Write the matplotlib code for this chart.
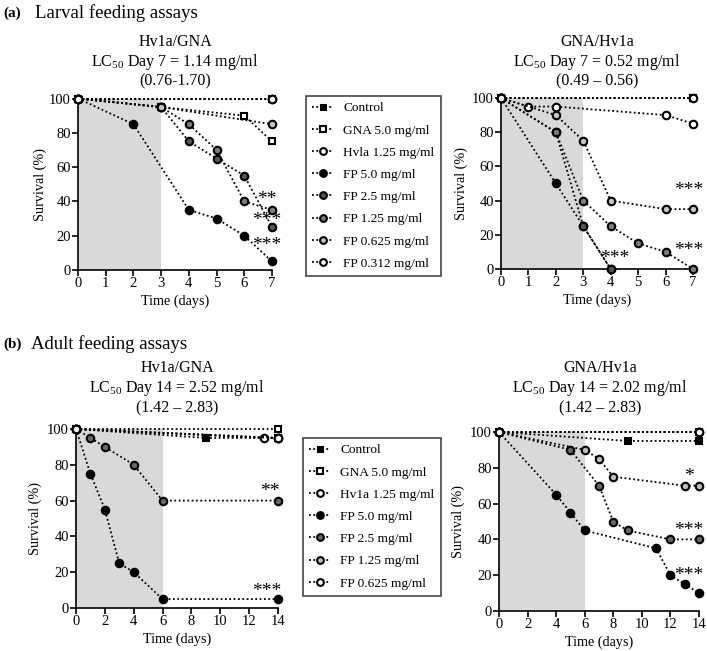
import matplotlib
matplotlib.use("Agg")
import matplotlib.pyplot as plt
from matplotlib.lines import Line2D

plt.rcParams['font.family'] = ['Liberation Serif', 'DejaVu Serif']
plt.rcParams['mathtext.fontset'] = 'custom'
plt.rcParams['mathtext.rm'] = 'Liberation Serif'
plt.rcParams['mathtext.bf'] = 'Liberation Serif:bold'

# ---------------- legend labels ----------------
labels_top = ["Control", "GNA 5.0 mg/ml", "Hvla 1.25 mg/ml", "FP 5.0 mg/ml",
              "FP 2.5 mg/ml", "FP 1.25 mg/ml", "FP 0.625 mg/ml", "FP 0.312 mg/ml"]
labels_bottom = ["Control", "GNA 5.0 mg/ml", "Hv1a 1.25 mg/ml", "FP 5.0 mg/ml",
                 "FP 2.5 mg/ml", "FP 1.25 mg/ml", "FP 0.625 mg/ml"]

# ---------------- (a) larval, Hv1a/GNA ----------------
aL_control_x = [0, 7];               aL_control_y = [100, 100]
aL_gna_x = [0, 3, 6, 7];             aL_gna_y = [100, 95, 90, 75]
aL_hv1a_x = [0, 7];                  aL_hv1a_y = [100, 100]
aL_fp50_x = [0, 2, 4, 5, 6, 7];      aL_fp50_y = [100, 85, 35, 30, 20, 5]
aL_fp25_x = [0, 3, 4, 5, 6, 7];      aL_fp25_y = [100, 95, 75, 65, 55, 25]
aL_fp125_x = [0, 3, 4, 5, 6, 7];     aL_fp125_y = [100, 95, 85, 70, 40, 35]
aL_fp0625_x = [0, 3, 7];             aL_fp0625_y = [100, 95, 85]
aL_fp0312_x = [0, 7];                aL_fp0312_y = [100, 100]
aL_stars = ["**", "***", "***"]
aL_stars_x = [6.8, 6.8, 6.8]
aL_stars_y = [41, 29, 14]

# ---------------- (a) larval, GNA/Hv1a ----------------
aR_control_x = [0, 7];               aR_control_y = [100, 100]
aR_gna_x = [0, 7];                   aR_gna_y = [100, 100]
aR_hv1a_x = [0, 1, 2, 6, 7];         aR_hv1a_y = [100, 95, 95, 90, 85]
aR_fp50_x = [0, 2, 3, 4];            aR_fp50_y = [100, 50, 25, 0]
aR_fp25_x = [0, 2, 3, 4];            aR_fp25_y = [100, 80, 25, 0]
aR_fp125_x = [0, 2, 3, 4, 5, 6, 7];  aR_fp125_y = [100, 80, 40, 25, 15, 10, 0]
aR_fp0625_x = [0, 2, 3, 4, 6, 7];    aR_fp0625_y = [100, 90, 75, 40, 35, 35]
aR_fp0312_x = [0, 7];                aR_fp0312_y = [100, 100]
aR_stars = ["***", "***", "***"]
aR_stars_x = [4.15, 6.85, 6.85]
aR_stars_y = [6, 46, 11]

# ---------------- (b) adult, Hv1a/GNA ----------------
bL_control_x = [0, 9, 14];                bL_control_y = [100, 95, 95]
bL_gna_x = [0, 14];                       bL_gna_y = [100, 100]
bL_hv1a_x = [0, 13, 14];                  bL_hv1a_y = [100, 95, 95]
bL_fp50_x = [0, 1, 2, 3, 4, 6, 14];       bL_fp50_y = [100, 75, 55, 25, 20, 5, 5]
bL_fp25_x = [0, 1, 2, 4, 6, 14];          bL_fp25_y = [100, 95, 90, 80, 60, 60]
bL_fp125_x = [0, 14];                     bL_fp125_y = [100, 95]
bL_fp0625_x = [0, 14];                    bL_fp0625_y = [100, 95]
bL_stars = ["**", "***"]
bL_stars_x = [13.4, 13.2]
bL_stars_y = [65, 9]

# ---------------- (b) adult, GNA/Hv1a ----------------
bR_control_x = [0, 9, 14];                      bR_control_y = [100, 95, 95]
bR_gna_x = [0, 14];                             bR_gna_y = [100, 100]
bR_hv1a_x = [0, 14];                            bR_hv1a_y = [100, 100]
bR_fp50_x = [0, 4, 5, 6, 11, 12, 13, 14];       bR_fp50_y = [100, 65, 55, 45, 35, 20, 15, 10]
bR_fp25_x = [0, 5, 7, 8, 9, 12, 14];            bR_fp25_y = [100, 90, 70, 50, 45, 40, 40]
bR_fp125_x = [0, 6, 7, 8, 13, 14];              bR_fp125_y = [100, 90, 85, 75, 70, 70]
bR_fp0625_x = [0, 14];                          bR_fp0625_y = [100, 100]
bR_stars = ["*", "***", "***"]
bR_stars_x = [13.3, 13.3, 13.3]
bR_stars_y = [75, 45, 20]

# ---------------- styles ----------------
STY_TOP = {
    "control": dict(marker='s', mfc='black', ms=4.0),
    "gna": dict(marker='s', mfc='white', ms=5.0),
    "hv1a": dict(marker='o', mfc='white', ms=5.4),
    "fp50": dict(marker='o', mfc='black', ms=5.4),
    "fp25": dict(marker='o', mfc='#555555', ms=5.4),
    "fp125": dict(marker='o', mfc='#7d7d7d', ms=5.4),
    "fp0625": dict(marker='o', mfc='#c4c4c4', ms=5.4),
    "fp0312": dict(marker='o', mfc='white', ms=5.4),
}
STY_BOT = dict(STY_TOP)
STY_BOT["fp25"] = dict(marker='o', mfc='#666666', ms=5.4)
STY_BOT["fp125"] = dict(marker='o', mfc='#bdbdbd', ms=5.4)
STY_BOT["fp0625"] = dict(marker='o', mfc='white', ms=5.4)

KEYS_TOP = ["control", "gna", "hv1a", "fp50", "fp25", "fp125", "fp0625", "fp0312"]
KEYS_BOT = ["control", "gna", "hv1a", "fp50", "fp25", "fp125", "fp0625"]

SERIF = ['Liberation Serif', 'DejaVu Serif']


def style(sty, key, scale=1.0):
    s = dict(sty[key])
    s['ms'] = s['ms'] * scale
    return dict(color='black', ls=(0, (1, 1.4)), lw=1.3, mec='black', mew=1.5, **s)


W, H = 707, 651
fig = plt.figure(figsize=(W / 100, H / 100), dpi=100)


def make_ax(box, xmax, xticks, shade_end, series, sty, stars, sx, sy, ylab_x):
    ax = fig.add_axes(box)
    ax.axvspan(0, shade_end, ymin=0, ymax=1, color='#d9d9d9', lw=0, zorder=0)
    for key, (x, y) in series:
        ax.plot(x, y, clip_on=False, zorder=3, **style(sty, key))
    for t, xx, yy in zip(stars, sx, sy):
        ax.text(xx, yy, t, fontsize=14, ha='center', va='center', zorder=5, family=SERIF)
    ax.set_xlim(0, xmax)
    ax.set_ylim(0, 100)
    yt = [0, 20, 40, 60, 80, 100]
    ax.set_xticks(xticks)
    ax.set_xticklabels([str(v) for v in xticks], fontsize=10.5, family=SERIF)
    ax.set_yticks(yt)
    ax.set_yticklabels([str(v) for v in yt], fontsize=10.5, family=SERIF)
    for sp in ['top', 'right']:
        ax.spines[sp].set_visible(False)
    for sp in ['left', 'bottom']:
        ax.spines[sp].set_linewidth(1.2)
    ax.tick_params(direction='out', length=4, width=1.2, pad=1)
    ax.set_xlabel("Time (days)", fontsize=10.2, labelpad=3, family=SERIF)
    ax.set_ylabel("Survival (%)", fontsize=10.2, family=SERIF)
    ax.yaxis.set_label_coords(ylab_x, 0.5)
    return ax


def titles(cx, ys, lines):
    for y, t in zip(ys, lines):
        fig.text(cx / W, 1 - y / H, t, fontsize=11.5, ha='center', va='center', family=SERIF)


# Panel header texts
fig.text(3 / W, 1 - 13 / H, "(a)", fontsize=11, fontweight='bold', ha='left', va='center', family=SERIF)
fig.text(35 / W, 1 - 13 / H, "Larval feeding assays", fontsize=13.5, ha='left', va='center', family=SERIF)
fig.text(3 / W, 1 - 344 / H, "(b)", fontsize=11, fontweight='bold', ha='left', va='center', family=SERIF)
fig.text(31 / W, 1 - 344 / H, "Adult feeding assays", fontsize=13.5, ha='left', va='center', family=SERIF)

tl_series = list(zip(KEYS_TOP, [(aL_control_x, aL_control_y), (aL_gna_x, aL_gna_y), (aL_hv1a_x, aL_hv1a_y),
                                (aL_fp50_x, aL_fp50_y), (aL_fp25_x, aL_fp25_y), (aL_fp125_x, aL_fp125_y),
                                (aL_fp0625_x, aL_fp0625_y), (aL_fp0312_x, aL_fp0312_y)]))
tr_series = list(zip(KEYS_TOP, [(aR_control_x, aR_control_y), (aR_gna_x, aR_gna_y), (aR_hv1a_x, aR_hv1a_y),
                                (aR_fp50_x, aR_fp50_y), (aR_fp25_x, aR_fp25_y), (aR_fp125_x, aR_fp125_y),
                                (aR_fp0625_x, aR_fp0625_y), (aR_fp0312_x, aR_fp0312_y)]))
bl_series = list(zip(KEYS_BOT, [(bL_control_x, bL_control_y), (bL_gna_x, bL_gna_y), (bL_hv1a_x, bL_hv1a_y),
                                (bL_fp50_x, bL_fp50_y), (bL_fp25_x, bL_fp25_y), (bL_fp125_x, bL_fp125_y),
                                (bL_fp0625_x, bL_fp0625_y)]))
br_series = list(zip(KEYS_BOT, [(bR_control_x, bR_control_y), (bR_gna_x, bR_gna_y), (bR_hv1a_x, bR_hv1a_y),
                                (bR_fp50_x, bR_fp50_y), (bR_fp25_x, bR_fp25_y), (bR_fp125_x, bR_fp125_y),
                                (bR_fp0625_x, bR_fp0625_y)]))

days7 = list(range(0, 8))
days14 = list(range(0, 15, 2))

make_ax([78 / W, 1 - 270 / H, 194 / W, 171.5 / H], 7, days7, 3, tl_series, STY_TOP,
        aL_stars, aL_stars_x, aL_stars_y, -0.16)
make_ax([501 / W, 1 - 269 / H, 192 / W, 171 / H], 7, days7, 3, tr_series, STY_TOP,
        aR_stars, aR_stars_x, aR_stars_y, -0.17)
make_ax([76 / W, 1 - 608 / H, 202 / W, 179 / H], 14, days14, 6, bl_series, STY_BOT,
        bL_stars, bL_stars_x, bL_stars_y, -0.168)
make_ax([499 / W, 1 - 611 / H, 200 / W, 179 / H], 14, days14, 6, br_series, STY_BOT,
        bR_stars, bR_stars_x, bR_stars_y, -0.17)

titles(175, [42, 62, 81], ["Hv1a/GNA", r"LC$_{50}$ Day 7 = 1.14 mg/ml", "(0.76-1.70)"])
titles(597, [42, 62, 81], ["GNA/Hv1a", r"LC$_{50}$ Day 7 = 0.52 mg/ml", "(0.49 – 0.56)"])
titles(177, [368, 388, 408], ["Hv1a/GNA", r"LC$_{50}$ Day 14 = 2.52 mg/ml", "(1.42 – 2.83)"])
titles(600, [368, 388, 408], ["GNA/Hv1a", r"LC$_{50}$ Day 14 = 2.02 mg/ml", "(1.42 – 2.83)"])


def legend(keys, sty, labels, x0, y0):
    handles = [Line2D([], [], **style(sty, k, 0.9)) for k in keys]
    lg = fig.legend(handles, labels, loc='upper left', bbox_to_anchor=(x0 / W, 1 - y0 / H),
                    frameon=True, fancybox=False, handlelength=1.6,
                    handletextpad=0.75, labelspacing=0.74, borderpad=0.45, borderaxespad=0,
                    prop={'family': SERIF, 'size': 9.6}, framealpha=1)
    fr = lg.get_frame()
    fr.set_edgecolor('#444444')
    fr.set_linewidth(1.2)
    return lg


legend(KEYS_TOP, STY_TOP, labels_top, 306, 96)
legend(KEYS_BOT, STY_BOT, labels_bottom, 303, 438)

fig.savefig("out.png", dpi=100)
